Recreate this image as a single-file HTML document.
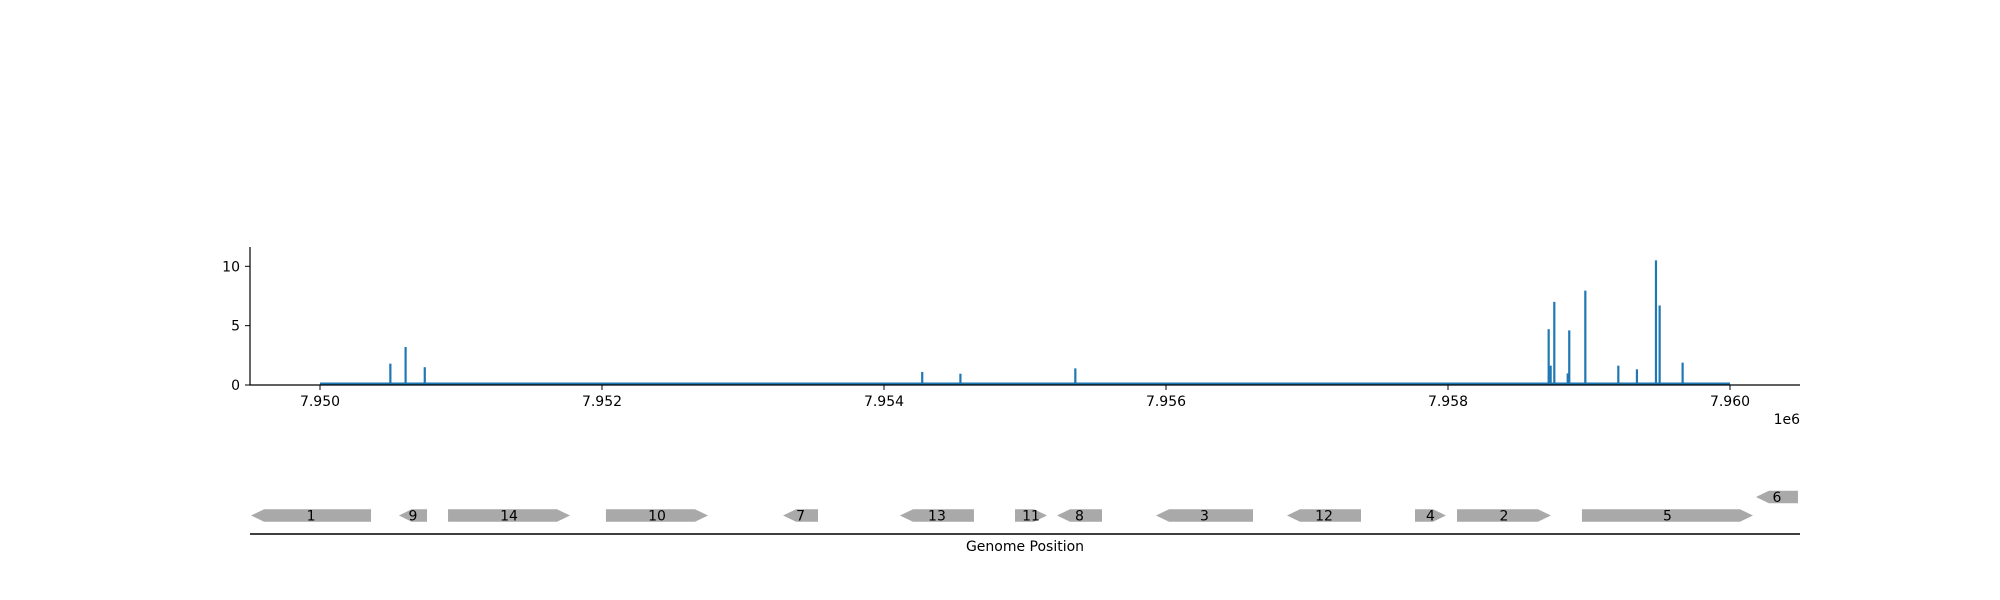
<!DOCTYPE html>
<html><head><meta charset="utf-8"><style>
body{margin:0;background:#fff}
svg{display:block;font-family:"DejaVu Sans","Liberation Sans",sans-serif}
</style></head><body>
<svg id="c" width="2000" height="600" viewBox="0 0 2000 600"></svg>
<script>
const peakPos=[7950499,7950607,7950743,7954271,7954542,7955357,7958714,7958728,7958754,7958849,7958860,7958974,7959208,7959340,7959475,7959501,7959664];
const peakVal=[1.8,3.2,1.5,1.1,0.95,1.4,4.7,1.63,7.0,0.98,4.6,7.95,1.63,1.32,10.5,6.7,1.88];
const yTicks=[0,5,10];
const xTicks=[7950000,7952000,7954000,7956000,7958000,7960000];
const xTickLabels=["7.950","7.952","7.954","7.956","7.958","7.960"];
const geneNames=["1","9","14","10","7","13","11","8","3","12","4","2","5","6"];
const geneStart=[7949511,7950560,7950908,7952028,7953284,7954113,7954929,7955227,7955929,7956858,7957766,7958064,7958950,7960184];
const geneEnd=[7950362,7950759,7951773,7952752,7953532,7954638,7955156,7955546,7956617,7957383,7957986,7958730,7960163,7960482];
const geneStrand=[-1,-1,1,1,-1,-1,1,-1,-1,-1,1,1,1,-1];
const geneRow=[0,0,0,0,0,0,0,0,0,0,0,0,0,1];
const covStart=7950000, covEnd=7960000;

const svg=document.getElementById('c');
const NS='http://www.w3.org/2000/svg';
const X=v=>320+(v-7950000)*0.141;
const Y=v=>385-v*11.87;
function mk(t,a){const e=document.createElementNS(NS,t);for(const k in a)e.setAttribute(k,a[k]);svg.appendChild(e);return e;}

let e=mk('line',{x1:X(covStart),x2:X(covEnd),y1:Y(0)-1.5,y2:Y(0)-1.5,stroke:'#1f77b4','stroke-width':2});


peakPos.forEach((p,i)=>{
  const b=mk('line',{x1:X(p),x2:X(p),y1:Y(0),y2:Y(peakVal[i]),stroke:'#1f77b4','stroke-width':2.2});
  
  
});
e=mk('line',{x1:250,x2:250,y1:247,y2:385.5,stroke:'#000','stroke-width':1.2});


e=mk('line',{x1:249.5,x2:1800,y1:385,y2:385,stroke:'#000','stroke-width':1.2});


yTicks.forEach(v=>{
  mk('line',{x1:245,x2:250,y1:Y(v),y2:Y(v),stroke:'#000','stroke-width':1});
  const t=mk('text',{x:240,y:Y(v)+5,'text-anchor':'end','font-size':14});
  t.textContent=v;
  
  
});
xTicks.forEach((v,i)=>{
  mk('line',{x1:X(v),x2:X(v),y1:385,y2:390,stroke:'#000','stroke-width':1});
  const t=mk('text',{x:X(v),y:406,'text-anchor':'middle','font-size':14});
  t.textContent=xTickLabels[i];
  
  
});
e=mk('text',{x:1800,y:424,'text-anchor':'end','font-size':14});e.textContent='1e6';



e=mk('line',{x1:250,x2:1800,y1:534,y2:534,stroke:'#000','stroke-width':1.5});


geneNames.forEach((n,i)=>{
  const x1=X(geneStart[i]),x2=X(geneEnd[i]);
  const yc=515.5-geneRow[i]*18.5,h=6.2;
  const tip=Math.min(13,(x2-x1)*0.45);
  let pts;
  if(geneStrand[i]>0) pts=[[x1,yc-h],[x2-tip,yc-h],[x2,yc],[x2-tip,yc+h],[x1,yc+h]];
  else pts=[[x2,yc-h],[x1+tip,yc-h],[x1,yc],[x1+tip,yc+h],[x2,yc+h]];
  const p=mk('polygon',{points:pts.map(q=>q.join(',')).join(' '),fill:'#a9a9a9'});
  
  
  const t=mk('text',{x:(x1+x2)/2,y:yc+5,'text-anchor':'middle','font-size':14});
  t.textContent=n;
  
  
});
e=mk('text',{x:1025,y:551,'text-anchor':'middle','font-size':14});e.textContent='Genome Position';


</script>
</body></html>
